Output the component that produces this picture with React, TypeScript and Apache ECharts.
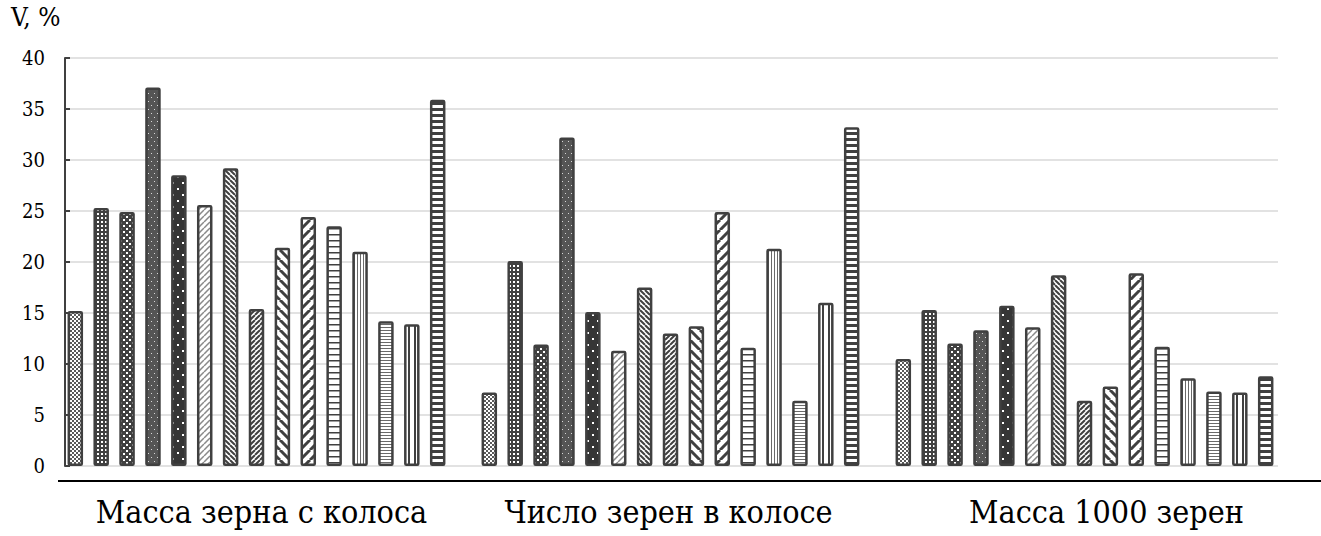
import React, { useEffect, useRef } from 'react';
import * as echarts from 'echarts';

const categories = ['Масса зерна с колоса', 'Число зерен в колосе', 'Масса 1000 зерен'];
const grainMassPerEar = [15.2, 25.3, 24.9, 37.1, 28.5, 25.6, 29.2, 15.4, 21.4, 24.4, 23.5, 21.0, 14.2, 13.9, 35.9];
const grainsPerEar = [7.2, 20.1, 11.9, 32.2, 15.1, 11.3, 17.5, 13.0, 13.7, 24.9, 11.6, 21.3, 6.4, 16.0, 33.2];
const thousandGrainMass = [10.5, 15.3, 12.0, 13.3, 15.7, 13.6, 18.7, 6.4, 7.8, 18.9, 11.7, 8.6, 7.3, 7.2, 8.8];
const yMin = 0;
const yMax = 40;
const yInterval = 5;
const yTitle = 'V, %';

const FONT = 'DejaVu Serif Condensed';
const DARK = '#404040';

function mk(w: number, h: number, bg: string, draw: (c: CanvasRenderingContext2D) => void) {
  const cv = document.createElement('canvas');
  cv.width = w;
  cv.height = h;
  const c = cv.getContext('2d')!;
  c.fillStyle = bg;
  c.fillRect(0, 0, w, h);
  draw(c);
  return cv;
}
function diag(s: number, lw: number, color: string, dir: string) {
  return mk(s, s, '#ffffff', (c) => {
    c.strokeStyle = color;
    c.lineWidth = lw;
    c.beginPath();
    for (const k of [-s, 0, s]) {
      if (dir === '/') {
        c.moveTo(k, s);
        c.lineTo(k + s, 0);
      } else {
        c.moveTo(k, 0);
        c.lineTo(k + s, s);
      }
    }
    c.stroke();
  });
}
function hlines(h: number, lw: number, color: string) {
  return mk(4, h, '#ffffff', (c) => {
    c.fillStyle = color;
    c.fillRect(0, 0, 4, lw);
  });
}
function vlines(w: number, lw: number, color: string) {
  return mk(w, 4, '#ffffff', (c) => {
    c.fillStyle = color;
    c.fillRect(0, 0, lw, 4);
  });
}

function buildPatterns() {
  return [
    mk(4, 4, '#ffffff', (c) => {
      c.fillStyle = '#5a5a5a';
      c.fillRect(0, 0, 2, 2);
      c.fillRect(2, 2, 2, 2);
    }),
    mk(4, 4, DARK, (c) => {
      c.fillStyle = '#ffffff';
      c.fillRect(1, 1, 2, 2);
    }),
    mk(6, 6, DARK, (c) => {
      c.fillStyle = '#ffffff';
      c.fillRect(0, 0, 2, 2);
      c.fillRect(3, 3, 2, 2);
    }),
    mk(6, 8, '#555555', (c) => {
      c.fillStyle = '#d8d8d8';
      c.fillRect(1, 1, 1, 1);
      c.fillRect(4, 5, 1, 1);
    }),
    mk(10, 12, '#363636', (c) => {
      c.fillStyle = '#ffffff';
      c.fillRect(2, 2, 2, 2);
      c.fillRect(7, 8, 2, 2);
    }),
    diag(6, 1.5, '#8a8a8a', '/'),
    diag(5, 2, DARK, '\\'),
    diag(5, 2, DARK, '/'),
    diag(10, 3, DARK, '\\'),
    diag(10, 3, DARK, '/'),
    hlines(6, 1.5, DARK),
    vlines(3, 1, '#6a6a6a'),
    hlines(3, 1, '#6a6a6a'),
    vlines(6, 2, DARK),
    hlines(6, 3, DARK),
  ];
}

export default function App() {
  const ref = useRef<HTMLDivElement>(null);
  useEffect(() => {
    if (!ref.current) return;
    const chart = echarts.init(ref.current, undefined, { renderer: 'svg' });
    const patterns = buildPatterns();
    const labelPad = [
      [0, 0, 0, 10],
      [0, 4, 0, 0],
      [0, 0, 0, 44],
    ];
    const rich: any = {};
    labelPad.forEach((p, i) => {
      rich['l' + i] = { fontSize: 32, fontFamily: FONT, color: '#000', padding: p };
    });
    const series = grainMassPerEar.map((_, i) => ({
      type: 'bar',
      xAxisIndex: 1,
      yAxisIndex: 1,
      barWidth: 15.5,
      barGap: '67%',
      data: [grainMassPerEar[i], grainsPerEar[i], thousandGrainMass[i]],
      itemStyle: {
        color: { image: patterns[i], repeat: 'repeat' },
        borderColor: DARK,
        borderWidth: 2.5,
        borderRadius: 1,
      },
    }));
    chart.setOption({
      animation: false,
      backgroundColor: '#ffffff',
      textStyle: { fontFamily: FONT },
      grid: [
        { left: 65, top: 58, width: 1213, height: 408 },
        { left: 49.5, top: 58, width: 1242, height: 408 },
      ],
      xAxis: [
        {
          gridIndex: 0,
          type: 'category',
          data: categories,
          axisLine: { show: false },
          axisTick: { show: false },
          axisLabel: { show: false },
        },
        {
          gridIndex: 1,
          type: 'category',
          data: categories,
          axisLine: { show: false },
          axisTick: { show: false },
          axisLabel: {
            interval: 0,
            hideOverlap: false,
            margin: 30,
            fontSize: 32,
            fontFamily: FONT,
            color: '#000',
            formatter: (v: string, i: number) => `{l${i}|${v}}`,
            rich,
          },
        },
      ],
      yAxis: [
        {
          gridIndex: 0,
          type: 'value',
          min: yMin,
          max: yMax,
          interval: yInterval,
          axisLine: { show: true, lineStyle: { color: DARK, width: 2 } },
          axisTick: { show: true, inside: true, length: 5, lineStyle: { color: DARK, width: 2 } },
          axisLabel: { fontSize: 20, fontFamily: FONT, color: '#000', margin: 20 },
          splitLine: { show: true, lineStyle: { color: '#d9d9d9', width: 1.5 } },
        },
        {
          gridIndex: 1,
          type: 'value',
          min: yMin,
          max: yMax,
          interval: yInterval,
          show: false,
          splitLine: { show: false },
        },
      ],
      graphic: [
        {
          type: 'text',
          left: 11,
          top: 4,
          style: { text: yTitle, fontSize: 26, fontFamily: FONT, fill: '#000' },
        },
        {
          type: 'line',
          shape: { x1: 58, y1: 481, x2: 1321, y2: 481 },
          style: { stroke: '#000', lineWidth: 2 },
        },
      ],
      series,
    });
    return () => chart.dispose();
  }, []);
  return (
    <div
      ref={ref}
      style={{ position: 'fixed', left: 0, top: 0, width: 1321, height: 536, background: '#fff' }}
    />
  );
}
